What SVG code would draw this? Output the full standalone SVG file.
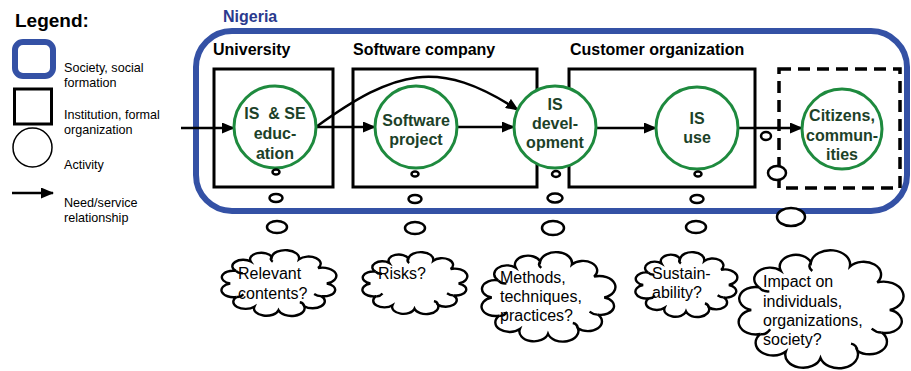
<svg xmlns="http://www.w3.org/2000/svg" xmlns:xlink="http://www.w3.org/1999/xlink" width="911" height="371" viewBox="0 0 911 371">
<defs>
<style>
text{font-family:"Liberation Sans",Arial,sans-serif;fill:#000}
.lg{font-size:12.6px}
.hd{font-size:16px;font-weight:bold}
.act{font-size:16px;font-weight:bold;fill:#1c4128;text-anchor:middle}
.cl{font-size:16px}
.inst{fill:none;stroke:#000;stroke-width:3}
.soc{fill:none;stroke:#3451a5;stroke-width:6}
.circ{fill:#fff;stroke:#1e8a3e;stroke-width:3}
.arr{fill:none;stroke:#000;stroke-width:2.5;marker-end:url(#ah)}
.bub{fill:#fff;stroke:#000;stroke-width:2.5}
.cloud{stroke:#000;stroke-width:2.4}
</style>
<marker id="ah" markerUnits="userSpaceOnUse" markerWidth="13" markerHeight="11" refX="12" refY="5.5" orient="auto">
<path d="M0,0 L13,5.5 L0,11 Z" fill="#000"/>
</marker>
<g id="cloud">
<path fill="#fff" vector-effect="non-scaling-stroke" d="M92,50 A1,1 0 0,1 87.1,68.8 A1,1 0 0,1 72.3,83.9 A1,1 0 0,1 50,90 A1,1 0 0,1 29,84.6 A1,1 0 0,1 13.6,70 A1,1 0 0,1 8,50 A1,1 0 0,1 12.9,31.2 A1,1 0 0,1 25.9,17.2 A1,1 0 0,1 44.2,10.4 A1,1 0 0,1 67.8,13.8 A1,1 0 0,1 84.4,27 A1,1 0 0,1 92,50 Z"/>
<path fill="none" vector-effect="non-scaling-stroke" d="M13.6,70 Q17,71 19.5,66 M72.3,83.9 Q72,79 68.5,78 M87.1,68.8 Q84,69 81,65.5 M44.2,10.4 Q42,14 45,17.5 M12.9,31.2 Q15,35 19,34.5"/>
</g>
</defs>
<rect width="911" height="371" fill="#fff"/>

<g id="legend">
<text x="15" y="27" style="font-size:19px;font-weight:bold">Legend:</text>
<rect x="15" y="42" width="38" height="34" rx="8" class="soc"/>
<text class="lg" x="64" y="72">Society, social</text>
<text class="lg" x="64" y="87">formation</text>
<rect x="14.5" y="89" width="37" height="35" class="inst"/>
<text class="lg" x="64" y="119">Institution, formal</text>
<text class="lg" x="64" y="134">organization</text>
<circle cx="32.5" cy="147.5" r="19.5" fill="none" stroke="#000" stroke-width="1.5"/>
<text class="lg" x="64" y="169">Activity</text>
<line x1="12" y1="193" x2="53" y2="193" class="arr"/>
<text class="lg" x="64" y="207">Need/service</text>
<text class="lg" x="64" y="222">relationship</text>
</g>

<g id="nigeria">
<rect x="196" y="31" width="711" height="180" rx="36" class="soc"/>
<text x="223" y="22" style="font-size:16px;font-weight:bold;fill:#2a3a8e">Nigeria</text>
</g>

<g id="university">
<rect x="214" y="69" width="119" height="118" class="inst"/>
<text class="hd" x="213" y="55">University</text>
</g>
<g id="software-company">
<rect x="353" y="69" width="184" height="118" class="inst"/>
<text class="hd" x="353" y="55">Software company</text>
</g>
<g id="customer-organization">
<rect x="569" y="69" width="186" height="118" class="inst"/>
<text class="hd" x="570" y="55">Customer organization</text>
</g>
<g id="citizens-group">
<rect x="779" y="69" width="121" height="119" fill="none" stroke="#000" stroke-width="3.5" stroke-dasharray="12 7"/>
</g>

<g id="connectors">
<line x1="181" y1="128" x2="234" y2="128" class="arr"/>
<line x1="316" y1="127" x2="375" y2="127" class="arr"/>
<path d="M316,127 C396,69.4 438,58 518,110" class="arr"/>
<line x1="457" y1="127" x2="514" y2="127" class="arr"/>
<line x1="596" y1="128" x2="656" y2="128" class="arr"/>
<line x1="738" y1="128" x2="802" y2="128" class="arr"/>
</g>

<g id="is-se-education">
<circle cx="275" cy="127" r="41" class="circ"/>
<text class="act" x="275" y="119" xml:space="preserve">IS  &amp; SE</text>
<text class="act" x="275" y="139">educ-</text>
<text class="act" x="275" y="159">ation</text>
</g>
<g id="software-project">
<circle cx="416" cy="127" r="41" class="circ"/>
<text class="act" x="416" y="126">Software</text>
<text class="act" x="416" y="145">project</text>
</g>
<g id="is-development">
<circle cx="555" cy="127" r="41" class="circ"/>
<text class="act" x="555" y="110">IS</text>
<text class="act" x="555" y="129">devel-</text>
<text class="act" x="555" y="148">opment</text>
</g>
<g id="is-use">
<circle cx="697" cy="128" r="41" class="circ"/>
<text class="act" x="697" y="124">IS</text>
<text class="act" x="697" y="143">use</text>
</g>
<g id="citizens">
<circle cx="842" cy="129" r="40" class="circ"/>
<text class="act" x="842" y="121">Citizens,</text>
<text class="act" x="842" y="141">commun-</text>
<text class="act" x="842" y="160">ities</text>
</g>

<g id="thought-bubbles">
<ellipse cx="276" cy="172" rx="3.5" ry="2.5" class="bub"/>
<ellipse cx="276" cy="198" rx="6.5" ry="4" class="bub"/>
<ellipse cx="277" cy="227" rx="10" ry="6" class="bub"/>
<ellipse cx="415" cy="174" rx="3.5" ry="2.5" class="bub"/>
<ellipse cx="415" cy="199" rx="6.5" ry="4" class="bub"/>
<ellipse cx="415" cy="228" rx="10" ry="6" class="bub"/>
<ellipse cx="556" cy="174" rx="4" ry="3" class="bub"/>
<ellipse cx="555" cy="198" rx="7.5" ry="4.5" class="bub"/>
<ellipse cx="553" cy="228" rx="11" ry="7" class="bub"/>
<ellipse cx="698" cy="174" rx="3.5" ry="2.5" class="bub"/>
<ellipse cx="697" cy="199" rx="6.5" ry="4" class="bub"/>
<ellipse cx="696" cy="227" rx="10" ry="6" class="bub"/>
<ellipse cx="766" cy="136" rx="5" ry="4" class="bub"/>
<ellipse cx="777" cy="173" rx="9" ry="7" class="bub"/>
<ellipse cx="791" cy="217" rx="14" ry="9" class="bub"/>
</g>

<g id="cloud-relevant">
<use xlink:href="#cloud" class="cloud" transform="translate(221,250) scale(1.15,0.67)"/>
<text class="cl" x="238" y="279">Relevant</text>
<text class="cl" x="238" y="299">contents?</text>
</g>
<g id="cloud-risks">
<use xlink:href="#cloud" class="cloud" transform="translate(362,252) scale(1.05,0.63)"/>
<text class="cl" x="378" y="279">Risks?</text>
</g>
<g id="cloud-methods">
<use xlink:href="#cloud" class="cloud" transform="translate(481,252) scale(1.34,0.91)"/>
<text class="cl" x="500" y="283">Methods,</text>
<text class="cl" x="500" y="302">techniques,</text>
<text class="cl" x="500" y="321">practices?</text>
</g>
<g id="cloud-sustainability">
<use xlink:href="#cloud" class="cloud" transform="translate(635,252) scale(1.02,0.66)"/>
<text class="cl" x="652" y="279">Sustain-</text>
<text class="cl" x="652" y="298">ability?</text>
</g>
<g id="cloud-impact">
<use xlink:href="#cloud" class="cloud" transform="translate(738,250) scale(1.65,1.2)"/>
<text class="cl" x="763" y="287">Impact on</text>
<text class="cl" x="763" y="307">individuals,</text>
<text class="cl" x="763" y="326">organizations,</text>
<text class="cl" x="763" y="345">society?</text>
</g>
</svg>
